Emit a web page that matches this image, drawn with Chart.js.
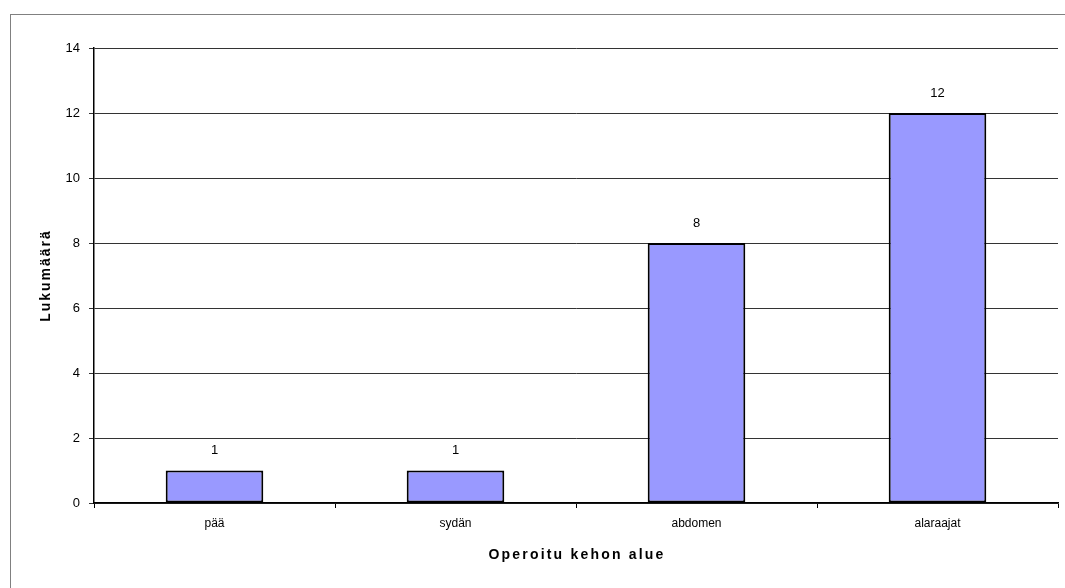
<!DOCTYPE html>
<html>
<head>
<meta charset="utf-8">
<script src="https://cdn.jsdelivr.net/npm/chart.js@4.4.1/dist/chart.umd.min.js"></script>
<style>
  html, body { margin: 0; padding: 0; background: #fff; overflow: hidden; }
  #wrap { position: relative; width: 1065px; height: 588px; }
  #frame {
    position: absolute; left: 10px; top: 14px; width: 1200px; height: 700px;
    border-top: 1px solid #808080; border-left: 1px solid #808080;
  }
  #chart { position: absolute; left: 0; top: 0; }
</style>
</head>
<body>
<div id="wrap">
  <div id="frame"></div>
  <canvas id="chart" width="1065" height="588"></canvas>
</div>
<script>
const categories = ["pää", "sydän", "abdomen", "alaraajat"];
const counts = [1, 1, 8, 12];
const yTitle = "Lukumäärä";
const xTitle = "Operoitu kehon alue";

const fontFamily = "'Liberation Sans', Arial, sans-serif";

// value printed above each bar
let valueLabels = {
  id: "valueLabels",
  afterDatasetsDraw(chart) {
    const ctx = chart.ctx;
    const meta = chart.getDatasetMeta(0);
    ctx.save();
    ctx.font = "13px " + fontFamily;
    ctx.fillStyle = "#000";
    ctx.textAlign = "center";
    ctx.textBaseline = "middle";
    meta.data.forEach((bar, i) => {
      ctx.fillText(String(counts[i]), bar.x, bar.y - 20);
    });
    ctx.restore();
  },
};

// axis titles, drawn by hand for the wide letter spacing
let axisTitles = {
  id: "axisTitles",
  afterDraw(chart) {
    const ctx = chart.ctx;
    const area = chart.chartArea;
    ctx.save();
    ctx.font = "bold 14px " + fontFamily;
    ctx.fillStyle = "#000";
    ctx.letterSpacing = "2.2px";
    ctx.textAlign = "center";
    ctx.textBaseline = "middle";
    ctx.fillText(xTitle, (area.left + area.right) / 2 + 1, 555);

    ctx.translate(46, (area.top + area.bottom) / 2);
    ctx.rotate(-Math.PI / 2);
    ctx.letterSpacing = "2px";
    ctx.fillText(yTitle, 0, 0);
    ctx.restore();
  },
};

let ctxChart = document.querySelector("#chart");
let bodyChart = new Chart(ctxChart, {
  type: "bar",
  data: {
    labels: categories,
    datasets: [
      {
        data: counts,
        backgroundColor: "#9999ff",
        borderColor: "#000",
        borderWidth: 2,
        borderSkipped: false,
        categoryPercentage: 1,
        barPercentage: 0.405,
      },
    ],
  },
  plugins: [valueLabels, axisTitles],
  options: {
    responsive: false,
    animation: false,
    layout: { padding: { left: 34, right: 7, top: 48, bottom: 10 } },
    plugins: {
      legend: { display: false },
      tooltip: { enabled: false },
    },
    scales: {
      x: {
        offset: true,
        grid: {
          offset: true,
          drawOnChartArea: false,
          drawTicks: true,
          tickLength: 5,
          color: "#000",
        },
        border: { color: "#000", width: 1.5 },
        ticks: {
          color: "#000",
          padding: 8,
          font: { family: fontFamily, size: 12 },
        },
        afterFit(scale) {
          scale.height = 75;
        },
      },
      y: {
        min: 0,
        max: 14,
        ticks: {
          stepSize: 2,
          color: "#000",
          padding: 9,
          font: { family: fontFamily, size: 13 },
        },
        grid: { color: "#333", tickLength: 5 },
        border: { color: "#000", width: 1.5 },
        afterFit(scale) {
          scale.width = 60;
        },
      },
    },
  },
});
</script>
</body>
</html>
